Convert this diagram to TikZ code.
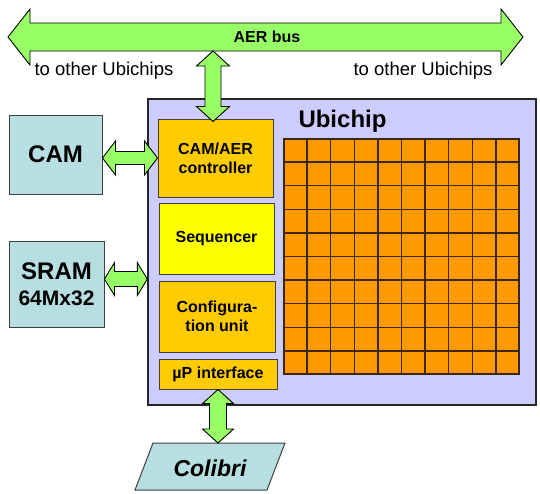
\documentclass[tikz,border=0pt]{standalone}
\usepackage{fontspec}
\setmainfont{Liberation Sans}
\usetikzlibrary{calc}

\definecolor{busgreen}{RGB}{153,255,102}
\definecolor{extblue}{RGB}{183,222,224}
\definecolor{chipviolet}{RGB}{204,204,255}
\definecolor{unitorange}{RGB}{255,204,0}
\definecolor{seqyellow}{RGB}{255,255,0}
\definecolor{cellorange}{RGB}{255,153,0}
\definecolor{boxline}{RGB}{64,64,64}
\definecolor{gridline}{RGB}{60,40,15}

% horizontal two-headed block arrow: left end, right end, shaft half-width, head half-width, head length
\newcommand\blockarrowH[5]{%
  \draw[busarrow] let \p1=(#1), \p2=(#2) in
    (\x1,\y1) -- (\x1+#5,\y1+#4) -- (\x1+#5,\y1+#3) -- (\x2-#5,\y1+#3) -- (\x2-#5,\y1+#4)
    -- (\x2,\y1) -- (\x2-#5,\y1-#4) -- (\x2-#5,\y1-#3) -- (\x1+#5,\y1-#3) -- (\x1+#5,\y1-#4) -- cycle;}
% vertical two-headed block arrow: top end, bottom end, shaft half-width, head half-width, head length
\newcommand\blockarrowV[5]{%
  \draw[busarrow] let \p1=(#1), \p2=(#2) in
    (\x1,\y1) -- (\x1+#4,\y1-#5) -- (\x1+#3,\y1-#5) -- (\x1+#3,\y2+#5) -- (\x1+#4,\y2+#5)
    -- (\x1,\y2) -- (\x1-#4,\y2+#5) -- (\x1-#3,\y2+#5) -- (\x1-#3,\y1-#5) -- (\x1-#4,\y1-#5) -- cycle;}

\tikzset{
  busarrow/.style={draw=black, line width=0.9pt, fill=busgreen, line join=miter},
  box/.style={draw=boxline, line width=1pt, inner sep=0pt},
  extbox/.style={box, fill=extblue, font=\fontsize{24}{28}\selectfont\bfseries, align=center},
  unitbox/.style={box, fill=unitorange, font=\fontsize{16}{19}\selectfont\bfseries, align=center},
  note/.style={font=\fontsize{18.5}{22}\selectfont, inner sep=0pt},
}

\begin{document}
\begin{tikzpicture}[x=1pt, y=-1pt]
\useasboundingbox (0,0) rectangle (540,493);

% AER bus
\coordinate (busL) at (8,37);
\coordinate (busR) at (523,37);
\blockarrowH{busL}{busR}{14pt}{28pt}{22pt}
\node[font=\fontsize{16}{19}\selectfont\bfseries, inner sep=0pt] (buslabel) at (267,37) {AER bus};
\node[note] (otherL) at (104,71) {to other Ubichips};
\node[note] (otherR) at (423,71) {to other Ubichips};

% Ubichip die
\node[draw=black!85, line width=1.4pt, fill=chipviolet, minimum width=388pt, minimum height=306pt, inner sep=0pt]
  (chip) at (342,252) {};
\node[font=\fontsize{24}{28}\selectfont\bfseries, inner sep=0pt] (chiptitle) at (342.5,121) {Ubichip};

% 10x10 cell array
\node[draw=gridline, line width=1.3pt, fill=cellorange, minimum width=235pt, minimum height=235pt, inner sep=0pt]
  (cells) at (401.5,256.5) {};
\foreach \i in {1,...,9} {
  \draw[gridline, line width=1.3pt]
    ($(cells.north west)!\i/10!(cells.north east)$) -- ($(cells.south west)!\i/10!(cells.south east)$);
  \draw[gridline, line width=1.3pt]
    ($(cells.north west)!\i/10!(cells.south west)$) -- ($(cells.north east)!\i/10!(cells.south east)$);
}

% on-chip units
\node[unitbox, minimum width=115pt, minimum height=78pt] (ctrl) at (215.5,158) {CAM/AER\\controller};
\node[unitbox, fill=seqyellow, minimum width=115pt, minimum height=71pt] (seq) at (216.5,238.5) {Sequencer};
\node[unitbox, minimum width=116pt, minimum height=71pt] (cfg) at (217,316.5) {Configura-\\tion unit};
\node[unitbox, minimum width=118pt, minimum height=30pt] (up) at (218,374) {µP interface};

% external devices
\node[extbox, minimum width=93pt, minimum height=79pt] (cam) at (55.5,154.5) {CAM};
\node[extbox, minimum width=95pt, minimum height=86pt] (sram) at (56.5,284)
  {SRAM\\[-2pt]{\fontsize{21}{24}\selectfont 64Mx32}};

% Colibri (parallelogram)
\coordinate (colibriC) at (210,466.5);
\coordinate (colibriTop) at (210,443);
\draw[box, fill=extblue]
  ($(colibriC)+(-75,23.5)$) -- ($(colibriC)+(57,23.5)$) -- ($(colibriC)+(75,-23.5)$) -- ($(colibriC)+(-57,-23.5)$) -- cycle;
\node[font=\fontsize{23}{27}\selectfont\bfseries\itshape, inner sep=0pt] (colibri) at (210,468) {Colibri};

% links
\coordinate (busjoin) at (213,51);
\blockarrowV{busjoin}{[yshift=-3pt]ctrl.north}{8pt}{16.5pt}{15pt}
\blockarrowH{cam.east |- ctrl.west}{ctrl.west}{6.5pt}{17pt}{13pt}
\blockarrowH{[yshift=5pt]sram.east}{chip.west}{7.5pt}{16.5pt}{10pt}
\blockarrowV{up.south}{colibriTop}{8.5pt}{15.5pt}{14pt}
\end{tikzpicture}
\end{document}
